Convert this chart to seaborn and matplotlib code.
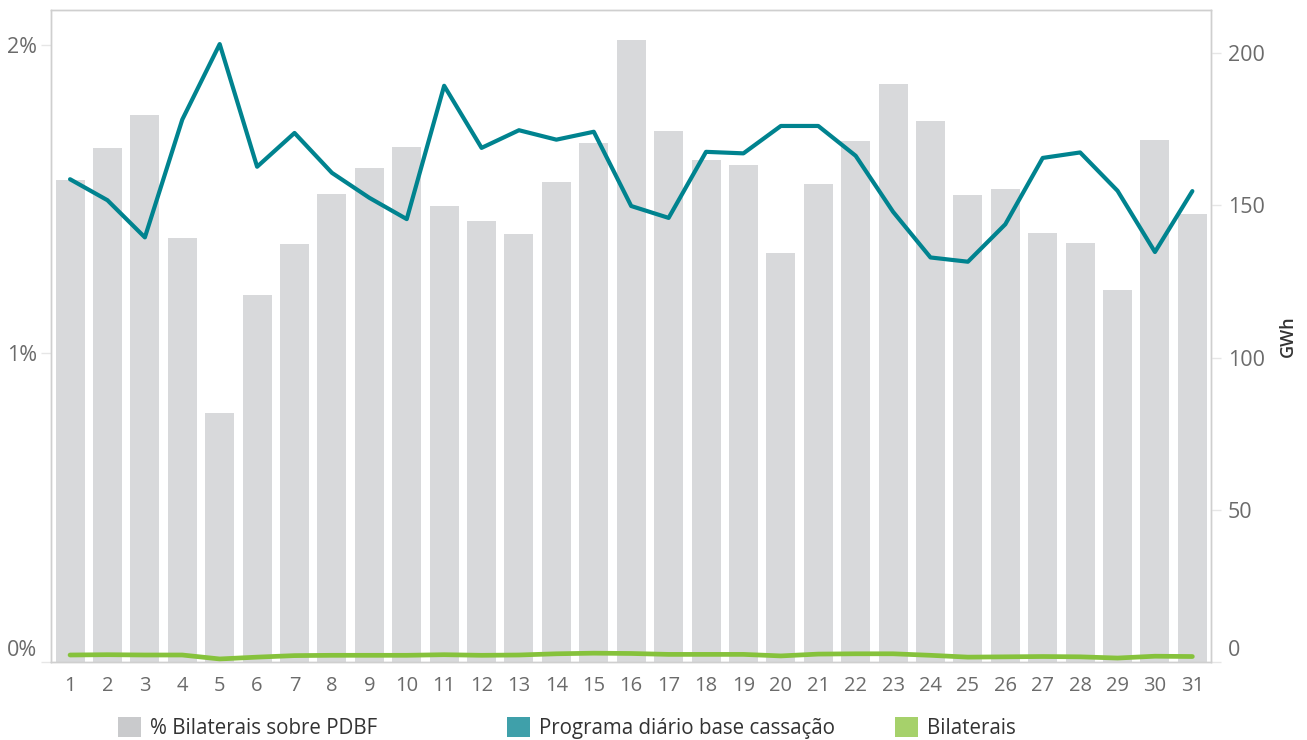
import matplotlib
matplotlib.use("Agg")
import matplotlib.pyplot as plt
import matplotlib.ticker as mticker
from matplotlib.patches import Patch
from matplotlib.transforms import ScaledTranslation
import seaborn as sns
import pandas as pd
import numpy as np

# ── Dados ───────────────────────────────────────────────────────────────────
days = list(range(1, 32))

pct_bilaterais = [1.562, 1.666, 1.773, 1.374, 0.807, 1.190, 1.355, 1.517, 1.602, 1.669,
                  1.478, 1.430, 1.387, 1.556, 1.682, 2.016, 1.721, 1.627, 1.611, 1.326,
                  1.549, 1.689, 1.874, 1.754, 1.514, 1.533, 1.391, 1.358, 1.206, 1.692,
                  1.452]

programa_gwh = [158.6, 151.7, 139.5, 178.2, 203.0, 162.7, 173.8, 160.7, 152.5, 145.5,
                189.3, 168.9, 174.7, 171.6, 174.2, 149.8, 145.9, 167.6, 167.1, 176.1,
                176.1, 166.3, 147.9, 132.9, 131.5, 143.8, 165.6, 167.4, 154.8, 134.7,
                154.7]

bilaterais_gwh = [2.3, 2.4, 2.3, 2.3, 1.0, 1.6, 2.1, 2.2, 2.2, 2.2,
                  2.4, 2.2, 2.3, 2.7, 2.9, 2.8, 2.5, 2.5, 2.5, 2.0,
                  2.6, 2.7, 2.7, 2.2, 1.6, 1.7, 1.8, 1.7, 1.3, 1.9,
                  1.8]

df = pd.DataFrame({
    "dia": days,
    "pct": pct_bilaterais,
    "programa": programa_gwh,
    "bilaterais": bilaterais_gwh,
})

COR = {
    "barra": "#d8d9db",
    "teal": "#00838f",
    "verde": "#86c23c",
    "leg_barra": "#c9cacc",
    "leg_teal": "#3fa0aa",
    "leg_verde": "#a6d16b",
    "eixo": "#cfcfcf",
    "tick_txt": "#6b6b6b",
}

sns.set_style("white")
plt.rcParams["font.family"] = ["Open Sans", "DejaVu Sans"]

fig = plt.figure(figsize=(13.07, 7.40), dpi=100)
ax1 = fig.add_axes([0.039, 0.1054, 0.8876, 0.8811])

# Barras: % Bilaterais sobre PDBF (eixo esquerdo)
sns.barplot(data=df, x="dia", y="pct", native_scale=True, width=0.775,
            color=COR["barra"], saturation=1, edgecolor="none", ax=ax1)

ax1.set_xlim(0.49, 31.47)
ax1.set_ylim(0, 2.113)
ax1.set_xlabel("")
ax1.set_ylabel("")
ax1.set_yticks([0, 1, 2])
ax1.yaxis.set_major_formatter(mticker.FuncFormatter(lambda v, _: f"{v:.0f}%"))

# Linhas (eixo direito, GWh)
ax2 = ax1.twinx()
sns.lineplot(data=df, x="dia", y="programa", color=COR["teal"], linewidth=3.0,
             solid_capstyle="round", ax=ax2)
sns.lineplot(data=df, x="dia", y="bilaterais", color=COR["verde"], linewidth=3.4,
             solid_capstyle="round", ax=ax2)
ax2.set_ylim(0, 214.2)
ax2.set_yticks([0, 50, 100, 150, 200])
ax2.set_xlim(0.49, 31.47)
ax2.set_ylabel("GWh", fontsize=13, fontweight="semibold", color="#333333", labelpad=10)
ax2.set_xlabel("")

# Eixo x: rótulos nos dias, marcas entre as barras
ax1.set_xticks(days)
ax1.set_xticklabels([str(d) for d in days])
ax1.set_xticks(np.arange(0.5, 32, 1), minor=True)
ax1.tick_params(axis="x", which="major", length=0, pad=10,
                labelsize=14.5, labelcolor=COR["tick_txt"])
ax1.tick_params(axis="x", which="minor", length=8, width=1, color="#e6e6e6")
ax1.tick_params(axis="y", length=7, width=1, color="#e6e6e6", pad=3,
                labelsize=15.5, labelcolor=COR["tick_txt"])
ax2.tick_params(axis="y", length=7, width=1, color="#e6e6e6", pad=5,
                labelsize=15.5, labelcolor=COR["tick_txt"])

for ax in (ax1, ax2):
    for s in ax.spines.values():
        s.set_color(COR["eixo"])
        s.set_linewidth(1.0)

# Rótulos "0" ligeiramente acima da linha base (como no original)
desloc = ScaledTranslation(0, 10 / 72, fig.dpi_scale_trans)
for ax in (ax1, ax2):
    lbl = ax.get_yticklabels()[0]
    lbl.set_transform(lbl.get_transform() + desloc)

# Legenda na parte inferior
itens = [
    ("% Bilaterais sobre PDBF", COR["leg_barra"], 0.0905),
    ("Programa diário base cassação", COR["leg_teal"], 0.388),
    ("Bilaterais", COR["leg_verde"], 0.685),
]
for rotulo, cor, x0 in itens:
    fig.legend(handles=[Patch(facecolor=cor, edgecolor="none", label=rotulo)],
               loc="center left", bbox_to_anchor=(x0, 0.016), frameon=False,
               fontsize=14.8, handlelength=1.1, handleheight=1.1,
               handletextpad=0.45, labelcolor="#333333", borderaxespad=0,
               borderpad=0)

fig.savefig("out.png", dpi=100)
